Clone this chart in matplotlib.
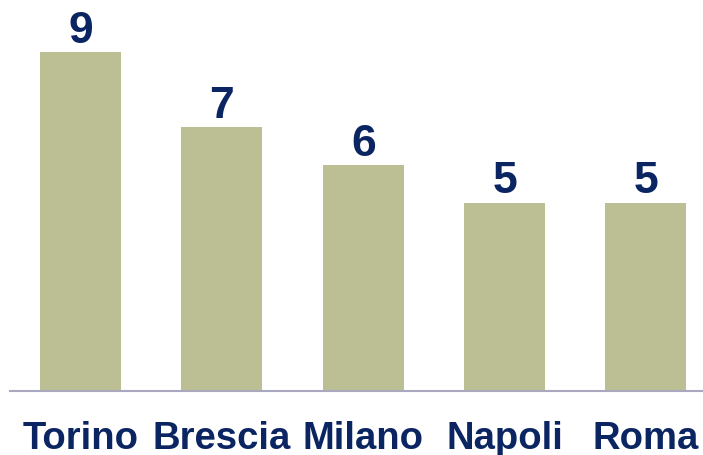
import matplotlib
matplotlib.use("Agg")
import matplotlib.pyplot as plt
from matplotlib.transforms import blended_transform_factory

cities = ["Torino", "Brescia", "Milano", "Napoli", "Roma"]
counts = [9, 7, 6, 5, 5]

bar_color = "#BBBF93"
text_color = "#0B2462"
axis_color = "#A9A8BF"

plt.rcParams["font.family"] = ["Liberation Sans", "DejaVu Sans"]

fig = plt.figure(figsize=(7.03, 4.56), dpi=100)
ax = fig.add_axes([10 / 703, 64 / 456, 1 - 10 / 703, 1 - 64 / 456])

x = list(range(len(cities)))
ax.bar(x, counts, width=0.573, color=bar_color, zorder=2)

ax.set_xlim(-0.5, 4.404)
ax.set_ylim(0, 10.41)

for s in ["top", "right", "left"]:
    ax.spines[s].set_visible(False)
ax.spines["bottom"].set_color(axis_color)
ax.spines["bottom"].set_linewidth(1.5)
ax.set_yticks([])
ax.set_xticks([])

# value labels sit just above each bar
for xi, v in zip(x, counts):
    ax.annotate(str(v), (xi, v), xytext=(0, 7.5), textcoords="offset points",
                ha="center", va="baseline", fontsize=32, fontweight="bold",
                color=text_color)

# city names below the baseline
trans = blended_transform_factory(ax.transData, fig.transFigure)
for xi, name in zip(x, cities):
    ax.text(xi, 1 - 449 / 456, name, transform=trans, ha="center", va="baseline",
            fontsize=27.5, fontweight="bold", color=text_color)

fig.savefig("out.png", dpi=100)
